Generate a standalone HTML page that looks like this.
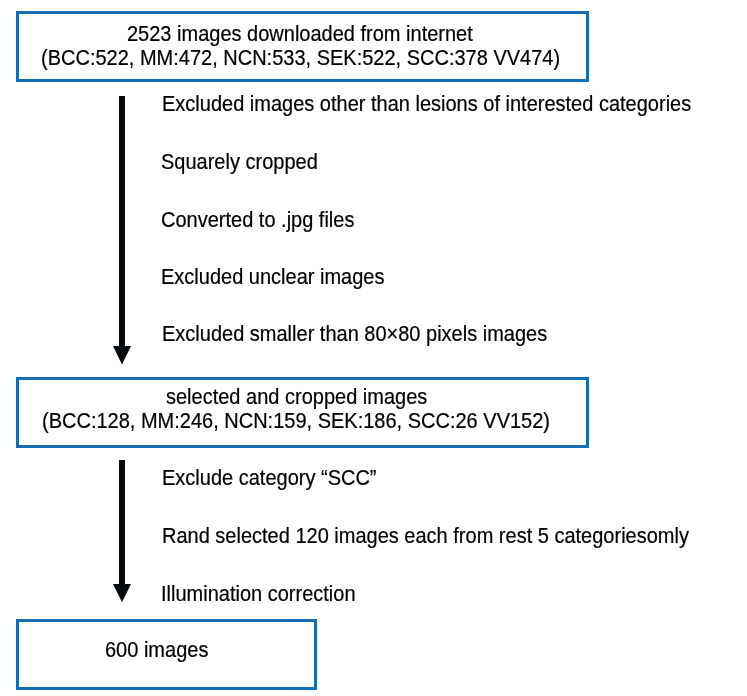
<!DOCTYPE html>
<html><head><meta charset="utf-8">
<style>
html,body{margin:0;padding:0;background:#fff;}
body{width:747px;height:696px;position:relative;overflow:hidden;font-family:"Liberation Sans",sans-serif;font-size:20px;color:#000;}
.box{position:absolute;box-sizing:border-box;border:3px solid #146eb5;background:#fff;}
.t{position:absolute;white-space:nowrap;line-height:23px;height:23px;transform-origin:0 18px;transform:scaleY(1.058) translateZ(0);-webkit-text-stroke:0.2px #000;}
svg{position:absolute;left:0;top:0;}
</style></head><body>
<div class="box" style="left:16px;top:11px;width:573px;height:71px;"></div>
<div class="box" style="left:16px;top:377px;width:573px;height:71px;"></div>
<div class="box" style="left:16px;top:619px;width:301px;height:71px;"></div>

<div class="t" style="left:127px;top:23px;">2523 images downloaded from internet</div>
<div class="t" style="left:41px;top:47px;">(BCC:522, MM:472, NCN:533, SEK:522, SCC:378 VV474)</div>

<div class="t" style="left:162px;top:93px;">Excluded images other than lesions of interested categories</div>
<div class="t" style="left:161px;top:151px;">Squarely cropped</div>
<div class="t" style="left:161px;top:209px;">Converted to .jpg files</div>
<div class="t" style="left:161px;top:266px;">Excluded unclear images</div>
<div class="t" style="left:162px;top:323px;">Excluded smaller than 80×80 pixels images</div>

<div class="t" style="left:166px;top:386px;">selected and cropped images</div>
<div class="t" style="left:42px;top:410px;">(BCC:128, MM:246, NCN:159, SEK:186, SCC:26 VV152)</div>

<div class="t" style="left:162px;top:467px;">Exclude category “SCC”</div>
<div class="t" style="left:162px;top:525px;">Rand selected 120 images each from rest 5 categoriesomly</div>
<div class="t" style="left:161px;top:583px;">Illumination correction</div>
<div class="t" style="left:105px;top:639px;">600 images</div>

<svg width="747" height="696" viewBox="0 0 747 696">
<rect x="119" y="96" width="6" height="251" fill="#05090b"/>
<polygon points="113,346 131,346 122,364.4" fill="#05090b"/>
<rect x="119" y="460" width="6" height="125" fill="#05090b"/>
<polygon points="113,584 131,584 122,602.2" fill="#05090b"/>
</svg>
</body></html>
